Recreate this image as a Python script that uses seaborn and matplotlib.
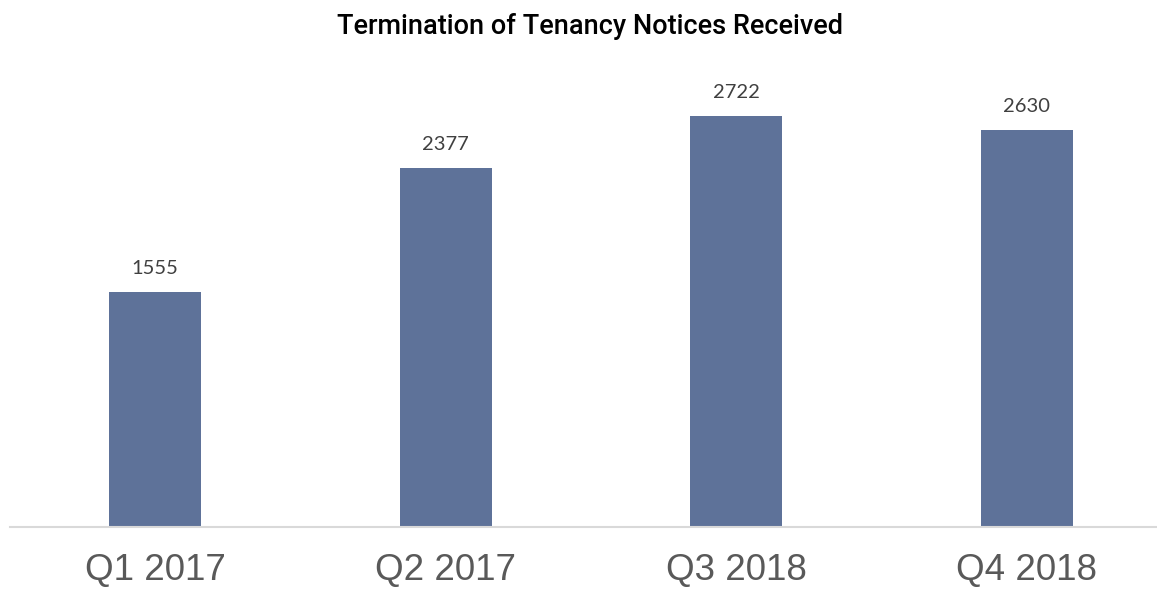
import matplotlib
matplotlib.use("Agg")
import matplotlib.pyplot as plt
import seaborn as sns
import pandas as pd

quarters = ["Q1 2017", "Q2 2017", "Q3 2018", "Q4 2018"]
notices = [1555, 2377, 2722, 2630]

df = pd.DataFrame({"quarter": quarters, "notices": notices})

sns.set_theme(style="white")
plt.rcParams["font.family"] = ["Liberation Sans", "DejaVu Sans"]

fig = plt.figure(figsize=(11.57, 5.90), dpi=100)
W, H = 1157, 590
# axes spans x 10..1157 px, y 74..527 px
ax = fig.add_axes([10 / W, (H - 527) / H, (1157 - 10) / W, (527 - 74) / H])

sns.barplot(data=df, x="quarter", y="notices", color="#5E7299", width=0.316,
            saturation=1, linewidth=0, ax=ax)

ax.set_ylim(0, 3000)
ax.set_xlim(-0.5, 3.5 - 15 / 290.67)
ax.set_xlabel("")
ax.set_ylabel("")
ax.set_yticks([])
for s in ["top", "right", "left"]:
    ax.spines[s].set_visible(False)
ax.spines["bottom"].set_color("#D9D9D9")
ax.spines["bottom"].set_linewidth(1.5)
ax.tick_params(axis="x", length=0, pad=19, labelsize=26.5, labelcolor="#595959")

for i, v in enumerate(notices):
    ax.annotate(str(v), (i, v), xytext=(0, 11), textcoords="offset points",
                ha="center", va="bottom", fontsize=14.5, color="#404040",
                family=["Lato", "DejaVu Sans"])

fig.text(0.51, 1 - 26 / H, "Termination of Tenancy Notices Received",
         ha="center", va="center", fontsize=19.5, color="black",
         family=["Roboto", "DejaVu Sans"], fontweight="medium")

fig.savefig("out.png", dpi=100)
